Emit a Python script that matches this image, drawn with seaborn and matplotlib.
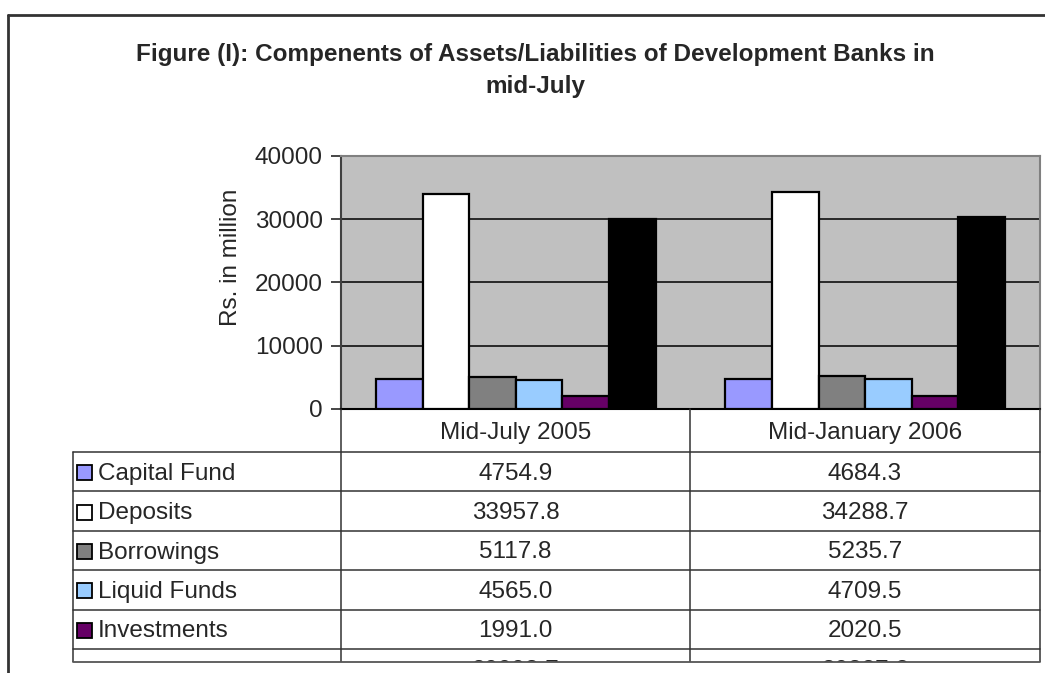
### Bibliotheken
import numpy as np
import pandas as pd
import matplotlib
matplotlib.use("Agg")
import matplotlib.pyplot as plt
from matplotlib.lines import Line2D
from matplotlib.patches import Rectangle
import seaborn as sns


### Daten
periods = ["Mid-July 2005", "Mid-January 2006"]
components = ["Capital Fund", "Deposits", "Borrowings", "Liquid Funds",
              "Investments", "Loans and Advances"]
values_2005 = [4754.9, 33957.8, 5117.8, 4565.0, 1991.0, 29993.7]
values_2006 = [4684.3, 34288.7, 5235.7, 4709.5, 2020.5, 30327.2]
colors = ["#9999FF", "#FFFFFF", "#808080", "#99CCFF", "#660066", "#000000"]
y_ticks = [0, 10000, 20000, 30000, 40000]

title = ("Figure (I): Compenents of Assets/Liabilities of Development Banks in\n"
         "mid-July")
y_label = "Rs. in million"


### Figur
W, H = 1045, 673
sns.set_style("white")
plt.rcParams["font.family"] = ["Liberation Sans", "DejaVu Sans"]
FS = 17.5

fig = plt.figure(figsize=(W / 100, H / 100), dpi=100)


def fx(px):
    return px / W


def fy(py):
    return 1 - py / H


# Plotbereich
left, right, top, bottom = 341, 1040, 156, 409
ax = fig.add_axes([fx(left), fy(bottom), fx(right - left), (bottom - top) / H])

df = pd.DataFrame({
    "period": periods * len(components),
    "component": [c for c in components for _ in periods],
    "value": [v for pair in zip(values_2005, values_2006) for v in pair],
})

sns.barplot(data=df, x="period", y="value", hue="component", order=periods,
            hue_order=components, palette=colors, edgecolor="black",
            linewidth=1.6, width=0.8, saturation=1, legend=False, ax=ax, zorder=3)

ax.set_facecolor("#C0C0C0")
ax.set_ylim(0, 40000)
ax.set_xlim(-0.5, 1.5)
ax.set_yticks(y_ticks)
ax.set_yticklabels([str(t) for t in y_ticks], fontsize=FS)
ax.set_xticks([])
ax.set_xlabel("")
ax.set_ylabel(y_label, fontsize=FS)
ax.yaxis.set_label_coords(-0.142, 0.60)
ax.tick_params(axis="y", direction="out", length=7, width=1.2, pad=6, left=True)
for t in y_ticks[1:]:
    ax.axhline(t, color="black", lw=1.1, zorder=1)
for s in ax.spines.values():
    s.set_color("#808080")
    s.set_linewidth(1.5)
ax.spines["left"].set_color("#404040")
ax.spines["bottom"].set_color("black")


# Titel
fig.text(fx(535), fy(71), title, ha="center", va="center", fontsize=17.5,
         fontweight="bold", linespacing=1.5, multialignment="center")

# Aeusserer Rahmen
fig.add_artist(Line2D([fx(8), fx(1045)], [fy(15), fy(15)], color="#333333", lw=2))
fig.add_artist(Line2D([fx(8), fx(8)], [fy(15), fy(673)], color="#333333", lw=2))


### Datentabelle
col_x = [341, 690, 1040]
tab_left = 73
row_top = 452
row_h = 39.4
lc = "#333333"

# Kopfzeile
for i, p in enumerate(periods):
    fig.text(fx((col_x[i] + col_x[i + 1]) / 2), fy((bottom + row_top) / 2 + 2), p,
             ha="center", va="center", fontsize=FS)

for x in col_x:
    fig.add_artist(Line2D([fx(x), fx(x)], [fy(bottom), fy(662)], color=lc, lw=1.1))
fig.add_artist(Line2D([fx(tab_left), fx(tab_left)], [fy(row_top), fy(662)], color=lc, lw=1.1))

for r, comp in enumerate(components):
    y0 = row_top + r * row_h
    yc = y0 + row_h / 2 + 2
    fig.add_artist(Line2D([fx(tab_left), fx(1040)], [fy(y0), fy(y0)], color=lc, lw=1.1))
    # letzte Zeile ist im Original unten abgeschnitten, nur die Zahlen ragen heraus
    if r < len(components) - 1:
        fig.add_artist(Rectangle((fx(77), fy(yc + 6.5)), fx(15), 15 / H,
                                 facecolor=colors[r], edgecolor="black", lw=1.3))
        fig.text(fx(98), fy(yc), comp, ha="left", va="center", fontsize=FS)
    fig.text(fx((col_x[0] + col_x[1]) / 2), fy(yc), f"{values_2005[r]:.1f}",
             ha="center", va="center", fontsize=FS)
    fig.text(fx((col_x[1] + col_x[2]) / 2), fy(yc), f"{values_2006[r]:.1f}",
             ha="center", va="center", fontsize=FS)

# Abgeschnittener unterer Rand
fig.add_artist(Rectangle((fx(10), 0), 1, fy(662), facecolor="white",
                         edgecolor="none", zorder=10))
fig.add_artist(Line2D([fx(tab_left), fx(1040)], [fy(662), fy(662)], color="#555555",
                      lw=1.3, zorder=11))

fig.savefig("out.png", dpi=100)
